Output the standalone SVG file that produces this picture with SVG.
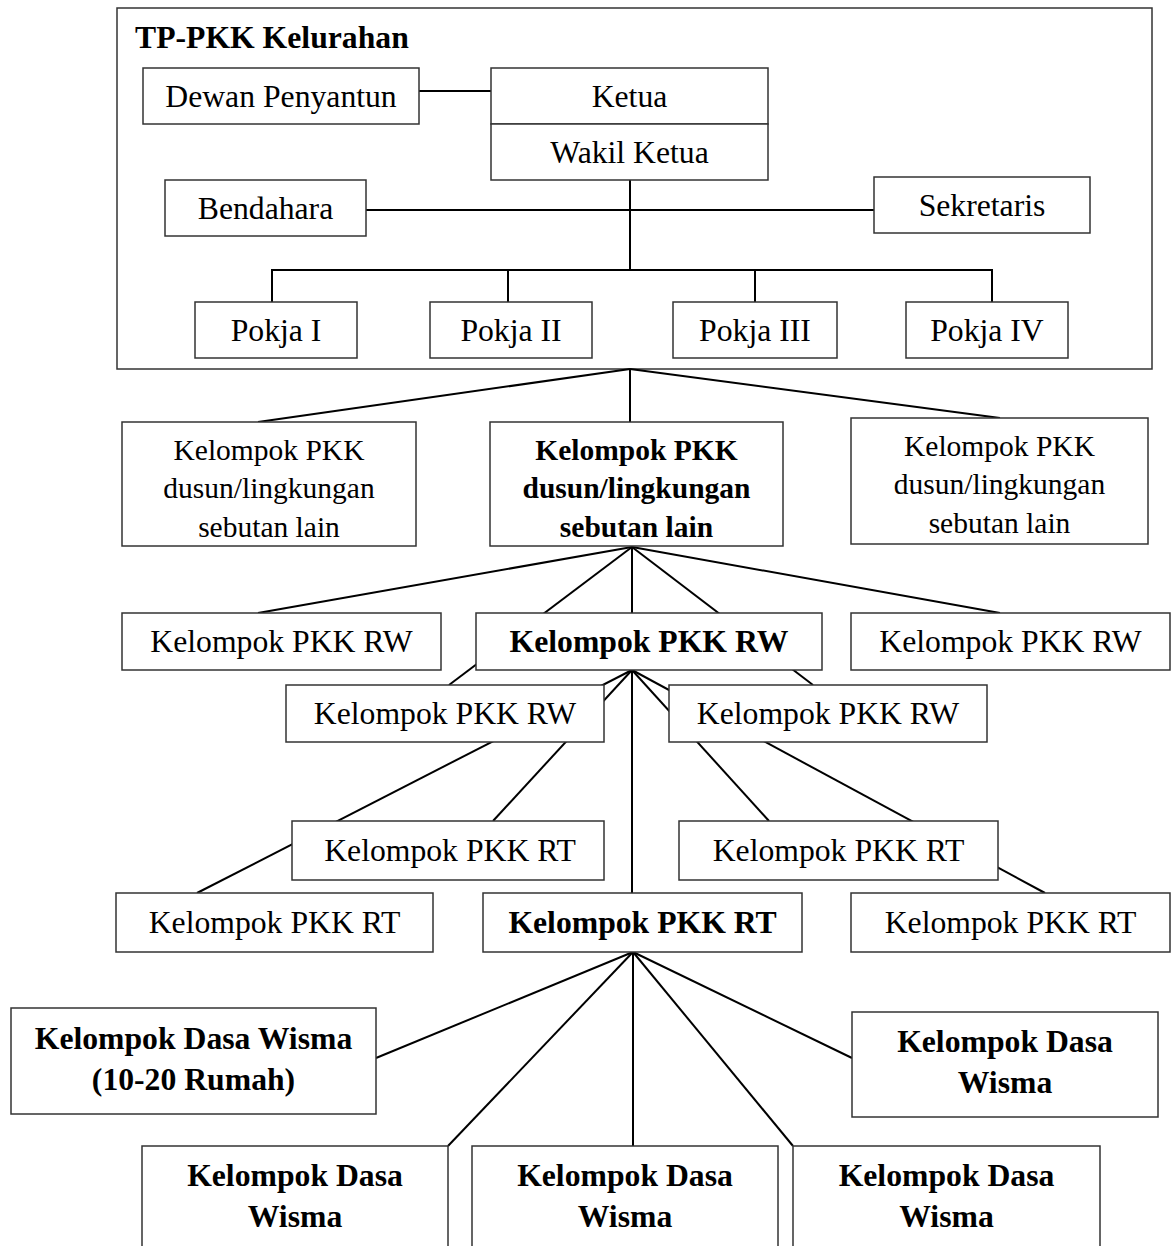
<svg xmlns="http://www.w3.org/2000/svg" width="1173" height="1246" viewBox="0 0 1173 1246">
<style>
.box{fill:#fff;stroke:#333;stroke-width:1.5}
.frame{fill:none;stroke:#333;stroke-width:1.5}
.t{font-family:"Liberation Serif","Times New Roman",serif;font-size:31.7px;text-anchor:middle;fill:#000}
.s{font-size:29.5px}
.b{font-weight:bold}
.conn line{stroke:#000;stroke-width:2}
</style>
<rect width="1173" height="1246" fill="#fff"/>
<g id="tp-pkk-kelurahan">
<rect class="frame" x="117" y="8" width="1035" height="361"/>
<text class="t b" x="135" y="48" style="text-anchor:start">TP-PKK Kelurahan</text>
</g>
<g class="conn" id="connectors">
<line x1="419" y1="91" x2="491" y2="91"/>
<line x1="366" y1="210" x2="874" y2="210"/>
<line x1="630" y1="180" x2="630" y2="270"/>
<line x1="271" y1="270" x2="993" y2="270"/>
<line x1="272" y1="270" x2="272" y2="302"/>
<line x1="508" y1="270" x2="508" y2="302"/>
<line x1="755" y1="270" x2="755" y2="302"/>
<line x1="992" y1="270" x2="992" y2="302"/>
<line x1="630" y1="369" x2="258" y2="422"/>
<line x1="630" y1="369" x2="630" y2="422"/>
<line x1="630" y1="369" x2="1000" y2="418"/>
<line x1="632" y1="547" x2="258" y2="613"/>
<line x1="632" y1="547" x2="449" y2="685"/>
<line x1="632" y1="547" x2="632" y2="613"/>
<line x1="632" y1="547" x2="813" y2="685"/>
<line x1="632" y1="547" x2="1000" y2="613"/>
<line x1="632" y1="670" x2="197" y2="893"/>
<line x1="632" y1="670" x2="493" y2="821"/>
<line x1="632" y1="670" x2="632" y2="893"/>
<line x1="632" y1="670" x2="769" y2="821"/>
<line x1="632" y1="670" x2="1045" y2="893"/>
<line x1="633" y1="952" x2="376" y2="1058"/>
<line x1="633" y1="952" x2="448" y2="1146"/>
<line x1="633" y1="952" x2="633" y2="1146"/>
<line x1="633" y1="952" x2="793" y2="1146"/>
<line x1="633" y1="952" x2="852" y2="1058"/>
</g>
<g id="dewan-penyantun"><rect class="box" x="143" y="68" width="276" height="56"/><text class="t" x="281" y="107">Dewan Penyantun</text></g>
<g id="ketua"><rect class="box" x="491" y="68" width="277" height="56"/><text class="t" x="629.5" y="107">Ketua</text></g>
<g id="wakil-ketua"><rect class="box" x="491" y="124" width="277" height="56"/><text class="t" x="629.5" y="163">Wakil Ketua</text></g>
<g id="bendahara"><rect class="box" x="165" y="180" width="201" height="56"/><text class="t" x="265.5" y="219">Bendahara</text></g>
<g id="sekretaris"><rect class="box" x="874" y="177" width="216" height="56"/><text class="t" x="982" y="216">Sekretaris</text></g>
<g id="pokja-1"><rect class="box" x="195" y="302" width="162" height="56"/><text class="t" x="276" y="341">Pokja I</text></g>
<g id="pokja-2"><rect class="box" x="430" y="302" width="162" height="56"/><text class="t" x="511" y="341">Pokja II</text></g>
<g id="pokja-3"><rect class="box" x="673" y="302" width="164" height="56"/><text class="t" x="755" y="341">Pokja III</text></g>
<g id="pokja-4"><rect class="box" x="906" y="302" width="162" height="56"/><text class="t" x="987" y="341">Pokja IV</text></g>
<g id="dusun-left"><rect class="box" x="122" y="422" width="294" height="124"/><text class="t s" x="269" y="460">Kelompok PKK</text><text class="t s" x="269" y="498">dusun/lingkungan</text><text class="t s" x="269" y="537">sebutan lain</text></g>
<g id="dusun-center"><rect class="box" x="490" y="422" width="293" height="124"/><text class="t s b" x="636.5" y="460">Kelompok PKK</text><text class="t s b" x="636.5" y="498">dusun/lingkungan</text><text class="t s b" x="636.5" y="537">sebutan lain</text></g>
<g id="dusun-right"><rect class="box" x="851" y="418" width="297" height="126"/><text class="t s" x="999.5" y="456">Kelompok PKK</text><text class="t s" x="999.5" y="494">dusun/lingkungan</text><text class="t s" x="999.5" y="533">sebutan lain</text></g>
<g id="rw-left"><rect class="box" x="122" y="613" width="319" height="57"/><text class="t" x="281.5" y="652">Kelompok PKK RW</text></g>
<g id="rw-center"><rect class="box" x="476" y="613" width="346" height="57"/><text class="t b" x="649" y="652">Kelompok PKK RW</text></g>
<g id="rw-right"><rect class="box" x="851" y="613" width="319" height="57"/><text class="t" x="1010.5" y="652">Kelompok PKK RW</text></g>
<g id="rw-left-2"><rect class="box" x="286" y="685" width="318" height="57"/><text class="t" x="445" y="724">Kelompok PKK RW</text></g>
<g id="rw-right-2"><rect class="box" x="669" y="685" width="318" height="57"/><text class="t" x="828" y="724">Kelompok PKK RW</text></g>
<g id="rt-left-1"><rect class="box" x="292" y="821" width="312" height="59"/><text class="t" x="450" y="861">Kelompok PKK RT</text></g>
<g id="rt-right-1"><rect class="box" x="679" y="821" width="319" height="59"/><text class="t" x="838.5" y="861">Kelompok PKK RT</text></g>
<g id="rt-left-2"><rect class="box" x="116" y="893" width="317" height="59"/><text class="t" x="274.5" y="933">Kelompok PKK RT</text></g>
<g id="rt-center"><rect class="box" x="483" y="893" width="319" height="59"/><text class="t b" x="642.5" y="933">Kelompok PKK RT</text></g>
<g id="rt-right-2"><rect class="box" x="851" y="893" width="319" height="59"/><text class="t" x="1010.5" y="933">Kelompok PKK RT</text></g>
<g id="dasa-wisma-main"><rect class="box" x="11" y="1008" width="365" height="106"/><text class="t b" x="193.5" y="1049">Kelompok Dasa Wisma</text><text class="t b" x="193.5" y="1090">(10-20 Rumah)</text></g>
<g id="dasa-wisma-right"><rect class="box" x="852" y="1012" width="306" height="105"/><text class="t b" x="1005" y="1052">Kelompok Dasa</text><text class="t b" x="1005" y="1093">Wisma</text></g>
<g id="dasa-wisma-b1"><rect class="box" x="142" y="1146" width="306" height="120"/><text class="t b" x="295" y="1186">Kelompok Dasa</text><text class="t b" x="295" y="1227">Wisma</text></g>
<g id="dasa-wisma-b2"><rect class="box" x="472" y="1146" width="306" height="120"/><text class="t b" x="625" y="1186">Kelompok Dasa</text><text class="t b" x="625" y="1227">Wisma</text></g>
<g id="dasa-wisma-b3"><rect class="box" x="793" y="1146" width="307" height="120"/><text class="t b" x="946.5" y="1186">Kelompok Dasa</text><text class="t b" x="946.5" y="1227">Wisma</text></g>
</svg>
